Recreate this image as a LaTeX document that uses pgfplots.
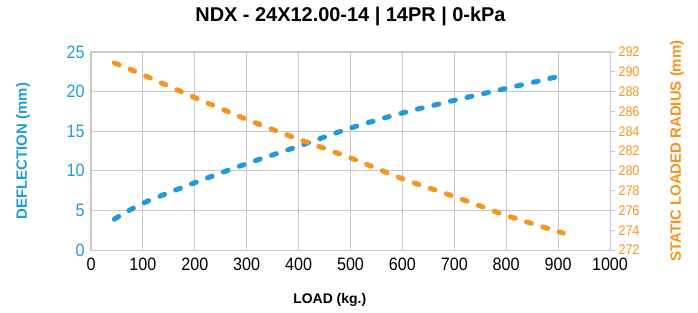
\documentclass[border=0pt]{standalone}
\usepackage{pgfplots}
\pgfplotsset{compat=1.18}
\usepackage{fontspec}
\setmainfont{Liberation Sans}
\newfontfamily\tickfont[FakeStretch=0.9]{Liberation Sans}
\definecolor{cblue}{RGB}{33,155,215}
\definecolor{corange}{RGB}{247,148,30}
\definecolor{cgrid}{RGB}{200,200,200}
\begin{document}
\begin{tikzpicture}
\path[use as bounding box] (-91bp,-63bp) rectangle (607bp,250bp);
\begin{axis}[at={(0,0)}, anchor=south west, scale only axis,
  width=519bp, height=198bp,
  xmin=0, xmax=1000, ymin=0, ymax=25,
  xtick={0,100,...,1000}, ytick={0,5,...,25},
  grid=major, major grid style={draw=cgrid, line width=0.8bp},
  axis line style={draw=cgrid, line width=1bp},
  tick style={draw=none},
  /pgf/number format/assume math mode=true,
  /pgf/number format/1000 sep={},
  xticklabel style={font=\tickfont\fontsize{18}{18}\selectfont, text=black, yshift=-4bp},
  yticklabel style={font=\tickfont\fontsize{18}{18}\selectfont, text=cblue, xshift=-3bp},
  title={NDX - 24X12.00-14 | 14PR | 0-kPa},
  title style={font=\bfseries\fontsize{20}{20}\selectfont, at={(axis description cs:0.5,1.1515)}, anchor=center},
  xlabel={LOAD (kg.)},
  xlabel style={font=\bfseries\fontsize{14}{14}\selectfont, at={(axis description cs:0.46,-0.2525)}, anchor=center},
  ylabel={DEFLECTION (mm)},
  ylabel style={font=\bfseries\fontsize{15}{15}\selectfont, text=cblue, at={(axis description cs:-0.131,0.5)}, anchor=center, rotate=0},
]
\addplot[cblue, line width=5bp, dash pattern=on 5bp off 12bp, line cap=round, smooth] coordinates {
(45,3.9) (100,5.9) (200,8.5) (300,10.9) (400,13.1) (500,15.4) (600,17.3) (700,18.9) (800,20.4) (900,21.9)
};
\end{axis}
\begin{axis}[at={(0,0)}, anchor=south west, scale only axis,
  width=519bp, height=198bp,
  xmin=0, xmax=1000, ymin=272, ymax=292,
  axis x line=none, axis y line*=right,
  ytick={272,274,...,292},
  axis line style={draw=cgrid, line width=1bp},
  tick align=outside, major tick length=5bp,
  tick style={draw=cgrid, line width=1bp},
  /pgf/number format/assume math mode=true,
  yticklabel style={font=\tickfont\fontsize{14}{14}\selectfont, text=corange},
  ylabel={STATIC LOADED RADIUS (mm)},
  ylabel style={font=\bfseries\fontsize{15}{15}\selectfont, text=corange, at={(axis description cs:1.129,0.5)}, anchor=center, rotate=0},
]
\addplot[corange, line width=5bp, dash pattern=on 5bp off 12bp, line cap=round, smooth] coordinates {
(45,290.9) (100,289.7) (200,287.4) (300,285.2) (400,283.2) (500,281.3) (600,279.2) (700,277.4) (800,275.5) (910,273.7)
};
\end{axis}
\end{tikzpicture}
\end{document}
